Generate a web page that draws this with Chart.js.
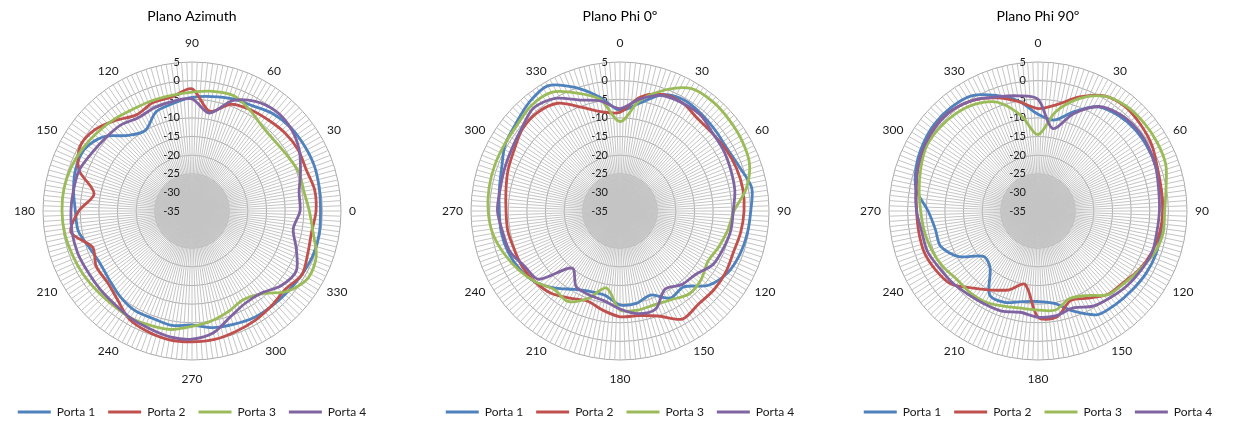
<!DOCTYPE html>
<html>
<head>
<meta charset="utf-8">
<script src="https://cdn.jsdelivr.net/npm/chart.js@4.4.1/dist/chart.umd.min.js"></script>
<style>
    html, body { margin: 0; padding: 0; background: #fff; width: 1233px; height: 421px; overflow: hidden; }
    .panel { position: absolute; top: 0; width: 400px; height: 421px; }
</style>
</head>
<body>
<div class="panel" style="left:-8px"><canvas id="azimuth" width="400" height="421"></canvas></div>
<div class="panel" style="left:420px"><canvas id="phi0" width="400" height="421"></canvas></div>
<div class="panel" style="left:838px"><canvas id="phi90" width="400" height="421"></canvas></div>
<script>
// angles (deg) at which every series below is sampled
const sampleAngles = [0, 10, 20, 30, 40, 50, 60, 70, 80, 90, 100, 110, 120, 130, 140, 150, 160, 170,
    180, 190, 200, 210, 220, 230, 240, 250, 260, 270, 280, 290, 300, 310, 320, 330, 340, 350];

// Plano Azimuth, dB
const azPorta1 = [-0.5, -0.3, 0, -0.1, -0.3, -1, -2.4, -3, -3.8, -4.5, -5.7, -6.7, -10, -8.5, -4, -1.7, -1.8, -2.7,
    -3.7, -4, -5.8, -6.6, -6.1, -5, -4.2, -4.3, -3.8, -4.4, -3.2, -2.6, -1.9, -1.7, -1.4, -0.9, -0.4, -0.3];
const azPorta2 = [-1.7, -1.6, -2.4, -2.1, -2.4, -3.1, -3.6, -4.5, -7.8, -2.2, -3.9, -4.1, -5.2, -3.2, -1, -0.3, -2.7, -8.3,
    -4.6, -2, -6.6, -5.3, -5.3, -3.9, -1.4, -0.5, 0.1, 0.1, 0, -0.6, -1.1, -1.8, -2.3, -0.9, -1.9, -2.4];
const azPorta3 = [-3.5, -4.5, -4.5, -5.4, -5.9, -5.5, -3.8, -2.1, -2.4, -3.1, -3.5, -3.5, -3.4, -2.7, -2, -1.2, -0.5, -0.1,
    -0.1, -0.3, -0.8, -1.2, -1.7, -2, -1.9, -2.3, -2.7, -4, -5, -6.3, -7.5, -6, -1.5, 1, 0.5, -2];
const azPorta4 = [-6, -5.8, -4, -1.8, -0.4, 0, -1, -3.5, -8.3, -4.9, -5.1, -5.5, -6.1, -5, -4.6, -3.9, -2.8, -2.7,
    -2.5, -2.3, -2.3, -2.6, -2.6, -2.5, -1.9, -1.4, -0.7, -0.6, -1.8, -4.8, -6.4, -6.2, -3.8, -2.7, -5.2, -7.4];

// Plano Phi 0º, dB
const phi0Porta1 = [-8, -5.7, -1.8, -0.6, -1, -1.5, -1.7, -0.8, 0.9, 0.1, -0.3, -0.8, -1.7, -4, -8.4, -8, -11, -9.8,
    -9.8, -12, -12, -10.7, -8, -5.3, -3.9, -3, -2.6, -2.6, -2.1, -1.2, 0.6, 1.5, 3, 3.8, 0.3, -4];
const phi0Porta2 = [-8.5, -4, -1.7, -1.5, -2.6, -2.6, -2.1, -1.7, -1.5, -1.7, -2.1, -2.6, -2.2, -2.1, -2.3, -1.5, -5, -6.5,
    -6.6, -8, -9.3, -8, -6.2, -5.3, -4.8, -4.8, -4.4, -4.4, -3.9, -3, -2.2, -0.8, -0.5, -1.6, -5.4, -8];
const phi0Porta3 = [-11, -5, -0.5, 3, 3.5, 3.2, 2.8, 2, -0.6, -4.4, -5.6, -6.8, -7.8, -6.5, -6, -7.5, -8.2, -8,
    -8.4, -14, -10, -7, -7.5, -5.4, -3.5, -1.8, -0.3, 0.4, 0.7, 0.8, 0.8, 1, 2, 1.8, -1.3, -4.6];
const phi0Porta4 = [-7.5, -4.5, -2, -1.5, -1.4, -2.5, -2.8, -3.3, -3.7, -4.6, -4.8, -5.5, -6.2, -8.5, -9.2, -10.8, -7, -7,
    -8.7, -10.5, -11, -11.5, -15, -6.5, -5.4, -3.5, -3, -2.1, -2.3, -2, -1.5, -0.5, 1.1, -0.1, -3.3, -5];

// Plano Phi 90º, dB
const phi90Porta1 = [-9, -10.2, -6.6, -2.7, -1.5, -1, -1, -1.2, -1.5, -1.5, -1.5, -1.3, -1.5, -2, -2.4, -2.9, -6.3, -9.8,
    -10.7, -10.3, -8.9, -9, -15, -16, -10.5, -7.2, -7, -5.5, -1.8, -0.2, 0.7, 1.3, 1.3, 0.7, -2, -5];
const phi90Porta2 = [-7.5, -6, -2.4, 0.7, 1.5, 1, 0.3, -0.9, -1.4, -1.5, -1.8, -2.5, -3.6, -5.1, -5.8, -8, -9.4, -6.1,
    -6.5, -15, -12.5, -10.5, -8, -4.5, -3.3, -2.5, -2.5, -2.4, -1.8, -0.7, 0.1, 0.7, 0.5, -0.6, -2.7, -5.2];
const phi90Porta3 = [-14.5, -8, -2.9, 0.6, 1.8, 2, 1.9, 1.5, -0.1, -1, -0.9, -1.8, -3.5, -4.8, -5.7, -8.8, -10, -8,
    -8.4, -8.5, -7.8, -6.8, -6.5, -6.5, -5.4, -4.6, -4, -3.5, -2.6, -1.5, -0.4, -0.4, -0.8, -1.8, -4, -9];
const phi90Porta4 = [-5, -12.5, -7.2, -2.6, -1, -0.5, -0.7, -1.3, -2.1, -2.4, -2.6, -2.4, -3.1, -3.8, -4.7, -5.5, -7.3, -6.5,
    -6.5, -7.4, -6.4, -6.2, -5.8, -5, -4.4, -3.4, -3.3, -2.4, -1.7, -0.7, 0.2, 0.6, 0.5, -0.6, -2.4, -3.6];

const radialTicks = [5, 0, -5, -10, -15, -20, -25, -30, -35];
const angleTicks = [0, 30, 60, 90, 120, 150, 180, 210, 240, 270, 300, 330];
const portNames = ['Porta 1', 'Porta 2', 'Porta 3', 'Porta 4'];
const portColors = ['#4F81BD', '#C0504D', '#9BBB59', '#8064A2'];

const SPOKES = 180; // one spoke every 2 degrees, as in the sheet

Chart.defaults.font.family = 'Lato';
Chart.defaults.color = '#1a1a1a';

// spoke labels clockwise from the top of the plot
function spokeAngles(topAngle, dir) {
    return Array.from({ length: SPOKES }, (_, i) =>
        (((topAngle + dir * i * 360 / SPOKES) % 360) + 360) % 360);
}

// put the sampled values on their spokes, nothing on the others
function onSpokes(values, spokes) {
    return spokes.map(a => {
        const k = sampleAngles.indexOf(a);
        return k === -1 ? null : values[k];
    });
}

// dB labels left of the vertical axis and the angle labels round the rim
const polarLabels = {
    id: 'polarLabels',
    beforeDatasetsDraw(chart) {
        const r = chart.scales.r;
        const ctx = chart.ctx;
        ctx.save();
        ctx.fillStyle = '#1a1a1a';
        ctx.textBaseline = 'middle';

        ctx.font = '11px Lato';
        ctx.textAlign = 'right';
        radialTicks.forEach(v => {
            ctx.fillText(String(v), r.xCenter - 12, r.yCenter - r.getDistanceFromCenterForValue(v));
        });

        ctx.font = '12px Lato';
        ctx.textAlign = 'center';
        angleTicks.forEach(a => {
            const i = chart.data.labels.indexOf(a);
            const ang = r.getIndexAngle(i) - Math.PI / 2;
            const w = ctx.measureText(String(a)).width;
            const pad = Math.abs(Math.sin(ang)) > 0.99 ? 14 : 8;
            const p = r.getPointPosition(i, r.drawingArea + pad);
            ctx.fillText(String(a), p.x + Math.cos(ang) * w / 2, p.y + Math.sin(ang) * 5);
        });
        ctx.restore();
    }
};

// the spokes crowd into a solid grey disc inside the -25 ring; the -30 ring is drawn wide to give it
const isHub = ctx => ctx.tick && ctx.tick.value === -30;

function makeChart(id, title, spokes, series) {
    new Chart(document.getElementById(id), {
        type: 'radar',
        data: {
            labels: spokes,
            datasets: series.map((vals, k) => ({
                label: portNames[k],
                data: onSpokes(vals, spokes),
                borderColor: portColors[k],
                backgroundColor: portColors[k],
                borderWidth: 2.8,
                pointRadius: 0,
                fill: false,
                spanGaps: true,
                tension: 0.3,
                order: series.length - 1 - k // later ports on top, like Excel
            }))
        },
        options: {
            responsive: false,
            animation: false,
            events: [],
            layout: { padding: { top: 0, right: 0, bottom: -7, left: 0 } },
            scales: {
                r: {
                    min: -35,
                    max: 5,
                    ticks: { display: false, stepSize: 5 },
                    grid: {
                        circular: true,
                        color: ctx => isHub(ctx) ? '#cdcdcd' : '#a8a8a8',
                        lineWidth: ctx => isHub(ctx) ? 36 : 1
                    },
                    angleLines: { color: '#c4c4c4', lineWidth: 1 },
                    pointLabels: { display: false }
                }
            },
            plugins: {
                title: {
                    display: true,
                    text: title,
                    color: '#000',
                    font: { size: 14, weight: 'normal', lineHeight: 1.2 },
                    padding: { top: 8, bottom: 37.2 }
                },
                legend: {
                    position: 'bottom',
                    title: { display: true, text: '', font: { size: 12, lineHeight: 1.2 }, padding: { top: 18.6, bottom: 0 } },
                    labels: {
                        usePointStyle: true,
                        pointStyle: 'line',
                        pointStyleWidth: 33,
                        padding: 13,
                        color: '#1a1a1a',
                        font: { size: 12 },
                        sort: (a, b) => a.datasetIndex - b.datasetIndex
                    }
                },
                tooltip: { enabled: false }
            }
        },
        plugins: [polarLabels]
    });
}

makeChart('azimuth', 'Plano Azimuth', spokeAngles(90, -1), [azPorta1, azPorta2, azPorta3, azPorta4]);
makeChart('phi0', 'Plano Phi 0º', spokeAngles(0, 1), [phi0Porta1, phi0Porta2, phi0Porta3, phi0Porta4]);
makeChart('phi90', 'Plano Phi 90º', spokeAngles(0, 1), [phi90Porta1, phi90Porta2, phi90Porta3, phi90Porta4]);
</script>
</body>
</html>
